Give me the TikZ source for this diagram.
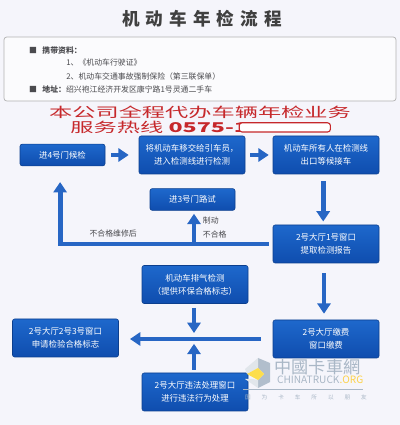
\documentclass[tikz,border=0pt]{standalone}
\usepackage{fontspec}
\setmainfont{Noto Sans CJK SC}
\newfontfamily\titlefont[LetterSpace=35]{Noto Sans CJK SC}
\newfontfamily\mottofont[LetterSpace=195]{Noto Sans CJK SC}
\definecolor{pagetint}{HTML}{F5F5FB}
\definecolor{boxtop}{HTML}{1E68CC}
\definecolor{boxbottom}{HTML}{0F4DAE}
\definecolor{boxedge}{HTML}{0C3F8E}
\definecolor{flowblue}{HTML}{2766C4}
\definecolor{hotred}{HTML}{C6282B}
\definecolor{notegray}{HTML}{4A4A4E}
\definecolor{markgray}{HTML}{A9B7C6}
\usetikzlibrary{arrows.meta,positioning}
\tikzset{
    flowbox/.style={
        draw=boxedge,
        top color=boxtop,
        bottom color=boxbottom,
        rounded corners=1.5pt,
        line width=0.4pt,
        minimum width=2.65cm,
        minimum height=0.95cm,
        align=center,
        text=white,
        inner sep=0pt,
        font=\fontsize{6}{9.2}\selectfont
    },
    flowshort/.style={
        flowbox,
        minimum width=2.125cm,
        minimum height=0.54cm
    },
    flowarrow/.style={
        -{Triangle[length=2.6mm,width=3.3mm]},
        draw=flowblue,
        line width=3.5pt
    },
    flowlabel/.style={
        text=notegray,
        inner sep=0pt,
        font=\fontsize{5.6}{7}\selectfont
    },
    noteline/.style={
        anchor=west,
        text=notegray,
        inner sep=0pt,
        font=\fontsize{5.6}{7}\selectfont
    },
    hotline/.style={
        text=hotred,
        inner sep=0pt,
        xscale=1.72,
        transform shape,
        font=\fontsize{9.6}{11}\selectfont
    },
    markline/.style={
        text=markgray,
        inner sep=0pt,
        anchor=west
    }
}
\begin{document}
\begin{tikzpicture}
        \fill[pagetint] (0,0) rectangle (10,10.625);
        \useasboundingbox (0,0) rectangle (10,10.625);

        \node[text=black!75,inner sep=0pt,font=\titlefont\fontsize{12.5}{14}\selectfont\bfseries] (title) at (5.05,10.15)
            {机动车年检流程};
        \node[draw=black!30,fill=white!60!pagetint,rounded corners=2pt,line width=0.5pt,
            minimum width=9.8cm,minimum height=1.6cm,inner sep=0pt] (notes) at (5,8.9) {};
        \node[noteline] (notehead) at (0.72,9.37) {■\hspace{0.7em}\bfseries 携带资料：};
        \node[noteline] (noteone) at (1.65,9.05) {1、《机动车行驶证》};
        \node[noteline] (notetwo) at (1.65,8.72) {2、机动车交通事故强制保险（第三联保单）};
        \node[noteline] (noteaddr) at (0.72,8.4) {■\hspace{0.7em}\textbf{地址：}绍兴袍江经济开发区康宁路1号灵通二手车};

        \node[hotline] (hotfirst) at (5,7.82) {本公司全程代办车辆年检业务};
        \node[hotline,anchor=west] (hotsecond) at (1.75,7.45) {服务热线 \textbf{0575-1}};
        \node[draw=hotred,fill=white,rounded corners=2pt,line width=0.8pt,minimum width=2.28cm,
            minimum height=0.23cm,inner sep=0pt] (hotcover) at (7.12,7.44) {};

        \node[flowshort] (gatefour) at (1.5625,6.75) {进4号门候检};
        \node[flowbox] (handover) at (4.8,6.75) {将机动车移交给引车员，\\进入检测线进行检测};
        \node[flowbox] (waitcar) at (8.15,6.75) {机动车所有人在检测线\\出口等候接车};
        \node[flowshort] (gatethree) at (4.8125,5.6375) {进3号门路试};
        \node[flowbox] (report) at (8.15,4.525) {2号大厅1号窗口\\提取检测报告};
        \node[flowbox] (exhaust) at (4.875,3.5125) {机动车排气检测\\（提供环保合格标志）};
        \node[flowbox] (payfee) at (8.15,2.15) {2号大厅缴费\\窗口缴费};
        \node[flowbox] (passmark) at (1.6375,2.175) {2号大厅2号3号窗口\\申请检验合格标志};
        \node[flowbox] (violation) at (4.875,0.825) {2号大厅违法处理窗口\\进行违法行为处理};

        \coordinate (retest) at (4.85,4.5);
        \coordinate (joint) at (4.85,2.15);

        \draw[flowarrow,shorten <=0.15cm,shorten >=0.25cm] (gatefour.east) -- (handover.west);
        \draw[flowarrow,shorten <=0.12cm,shorten >=0.1cm] (handover.east) -- (waitcar.west);
        \draw[flowarrow,shorten <=0.18cm,shorten >=0.08cm] ([xshift=-0.07cm]waitcar.south) -- ([xshift=-0.07cm]report.north);
        \draw[flowarrow,shorten <=0.25cm,shorten >=0.15cm] ([xshift=-0.05cm]report.south) -- ([xshift=-0.05cm]payfee.north);
        \draw[flowarrow,shorten <=0.1cm,shorten >=0.4cm] (report.west) -| ([xshift=-0.06cm]gatefour.south);
        \draw[flowarrow] (retest) -- ([yshift=-0.08cm]retest |- gatethree.south);
        \draw[flowarrow,shorten <=0.3cm,shorten >=0.28cm] (payfee.west) -- (joint -| passmark.east);
        \draw[flowarrow,shorten <=0.1cm,shorten >=0.15cm] (retest |- exhaust.south) -- (joint);
        \draw[flowarrow,shorten <=0.08cm,shorten >=0.12cm] (retest |- violation.north) -- (joint);

        \node[flowlabel] (repairlabel) at (2.83,4.78) {不合格维修后};
        \node[flowlabel] (brakelabel) at (5.27,5.1) {制动};
        \node[flowlabel] (faillabel) at (5.37,4.76) {不合格};

        % watermark
        \fill[markgray!90] (6.45,1.675) -- (6.75,1.55) -- (6.75,1.075) -- (6.45,0.925) -- (6.45,1.125) -- (6.6,1.275) -- (6.45,1.425) -- cycle;
        \fill[markgray!35] (6.45,1.675) -- (6.45,1.425) -- (6.175,1.275) -- (6.125,1.4) -- cycle;
        \fill[markgray!35] (6.125,1.15) -- (6.45,0.925) -- (6.45,1.125) -- (6.3,1.15) -- cycle;
        \fill[yellow!70!orange!70!white] (6.45,1.425) -- (6.6,1.275) -- (6.45,1.125) -- (6.175,1.275) -- cycle;
        \node[markline,font=\fontsize{12.2}{14}\selectfont] (markname) at (6.86,1.46) {中國卡車網};
        \node[markline,font=\fontsize{7.2}{8}\selectfont] (markorg) at (6.92,1.13) {CHINATRUCK\textcolor{yellow!55!orange!70!white}{.ORG}};
        \draw[markgray,line width=0.5pt] (6.08,0.88) -- (9.08,0.88);
        \node[markline,font=\mottofont\fontsize{4}{5}\selectfont] (markmotto) at (6.12,0.7) {国为卡车所以朋友};
    \end{tikzpicture}
\end{document}
